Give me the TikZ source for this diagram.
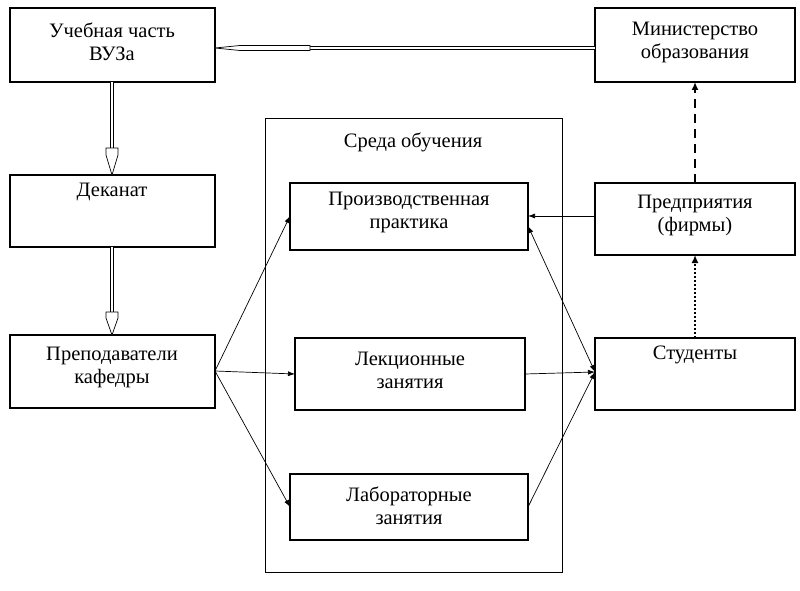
\documentclass[tikz,border=0pt]{standalone}
\usepackage{fontspec}
\setmainfont{Liberation Serif}
\usetikzlibrary{arrows.meta}
\begin{document}
\begin{tikzpicture}[x=1pt,y=-1pt,
  txt/.style={font=\fontsize{20.5}{23}\selectfont,align=center},
  arr/.style={line width=0.7pt,-{Latex[length=7pt,width=5pt]}},
  dbl/.style={double,double distance=2.2pt,line width=0.7pt},
  bx/.style={line width=1.6pt},
  htip/.style={line width=0.7pt,fill=white}]
\useasboundingbox (0,0) rectangle (800,591);
\draw[line width=0.6pt] (265,118) rectangle (562,572);
\node[txt] (sr) at (413,142) {Среда обучения};
\draw[bx] (10,8) rectangle (215,82);
\node[txt] (vuz) at (112,42) {Учебная часть\\ВУЗа};
\coordinate (vuzR) at (215,48); \coordinate (vuzB) at (112,82);
\draw[bx] (595,8) rectangle (795,82);
\node[txt] (min) at (695,42) {Министерство\\образования};
\coordinate (minL) at (595,48); \coordinate (minB) at (695,82);
\draw[bx] (10,175) rectangle (215,247);
\node[txt] (dek) at (112,192) {Деканат};
\coordinate (dekT) at (112,175); \coordinate (dekB) at (112,247);
\draw[bx] (10,335) rectangle (215,408);
\node[txt] (pre) at (112,367) {Преподаватели\\кафедры};
\coordinate (preT) at (112,335); \coordinate (preR) at (215,371);
\draw[bx] (290,183) rectangle (528,250);
\node[txt] (pp) at (409,212) {Производственная\\практика};
\coordinate (ppL) at (290,216); \coordinate (ppR) at (528,216); \coordinate (ppRB) at (528,226);
\draw[bx] (295,338) rectangle (525,410);
\node[txt] (lek) at (410,370) {Лекционные\\занятия};
\coordinate (lekL) at (295,374); \coordinate (lekR) at (525,374);
\draw[bx] (290,474) rectangle (528,540);
\node[txt] (lab) at (409,506) {Лабораторные\\занятия};
\coordinate (labL) at (290,507); \coordinate (labR) at (528,507);
\draw[bx] (595,183) rectangle (795,255);
\node[txt] (fir) at (695,215) {Предприятия\\(фирмы)};
\coordinate (firL) at (595,216); \coordinate (firT) at (695,183); \coordinate (firB) at (695,255);
\draw[bx] (595,338) rectangle (795,410);
\node[txt] (st) at (695,355) {Студенты};
\coordinate (stL) at (595,372); \coordinate (stT) at (695,338);
% hollow arrows
\draw[dbl] (minL) -- (310,48);
\draw[htip] (vuzR) -- (240,45.5) -- (310,45.5) -- (310,50.5) -- (240,50.5) -- cycle;
\draw[dbl] (vuzB) -- (112,148);
\draw[htip] (dekT) -- (106,155) -- (106,148) -- (118,148) -- (118,155) -- cycle;
\draw[dbl] (dekB) -- (112,312);
\draw[htip] (preT) -- (106,318) -- (106,312) -- (118,312) -- (118,318) -- cycle;
% connectors
\draw[arr] (preR) -- (ppL);
\draw[arr] (preR) -- (lekL);
\draw[arr] (preR) -- (labL);
\draw[arr] (firL) -- (ppR);
\draw[arr] (lekR) -- (stL);
\draw[arr] (labR) -- (stL);
\draw[line width=0.7pt,{Latex[length=7pt,width=5pt]}-{Latex[length=7pt,width=5pt]}] (ppRB) -- (stL);
\draw[line width=1.8pt,dash pattern=on 9pt off 6pt,-{Latex[length=8pt,width=7pt]}] (firT) -- (minB);
\draw[line width=1.8pt,dash pattern=on 2pt off 2pt,-{Latex[length=8pt,width=7pt]}] (stT) -- (firB);
\end{tikzpicture}
\end{document}
